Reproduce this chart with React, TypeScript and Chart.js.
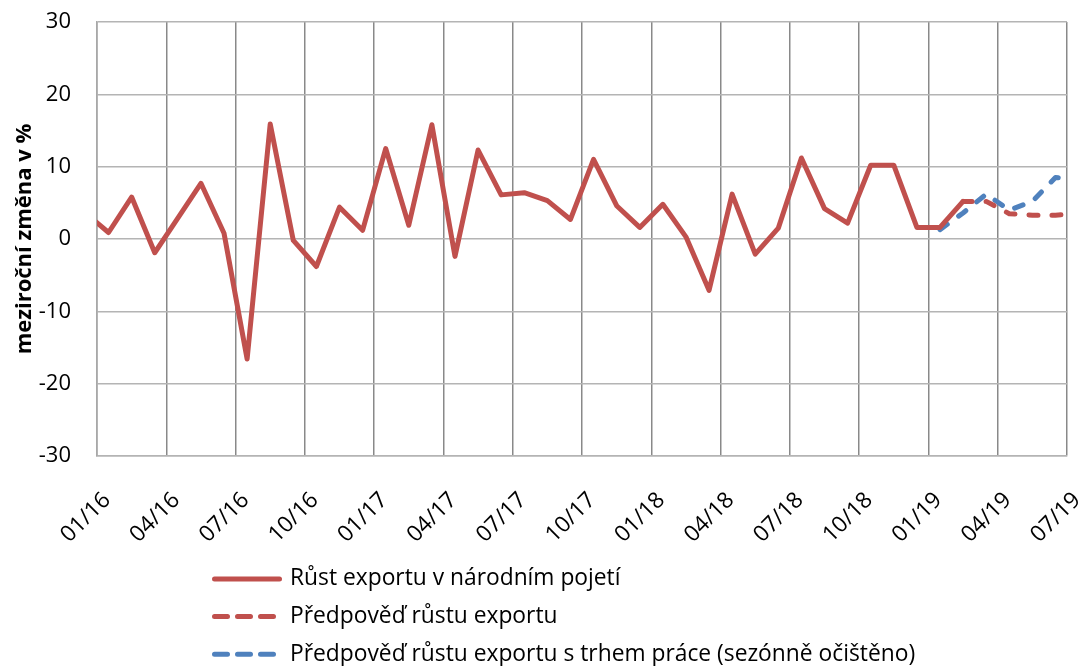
import React, { useEffect, useRef } from "react";
import { Chart, registerables } from "chart.js";

Chart.register(...registerables);

// Monthly categories (x positions are category index − 0.5 on the month scale)
const categories = [
  "12/15",
  "01/16", "02/16", "03/16", "04/16", "05/16", "06/16", "07/16", "08/16", "09/16", "10/16", "11/16", "12/16",
  "01/17", "02/17", "03/17", "04/17", "05/17", "06/17", "07/17", "08/17", "09/17", "10/17", "11/17", "12/17",
  "01/18", "02/18", "03/18", "04/18", "05/18", "06/18", "07/18", "08/18", "09/18", "10/18", "11/18", "12/18",
  "01/19", "02/19", "03/19", "04/19", "05/19", "06/19", "07/19",
];

const tickLabels = [
  "01/16", "04/16", "07/16", "10/16", "01/17", "04/17", "07/17", "10/17",
  "01/18", "04/18", "07/18", "10/18", "01/19", "04/19", "07/19",
];

const seriesNames = [
  "Růst exportu v národním pojetí",
  "Předpověď růstu exportu",
  "Předpověď růstu exportu s trhem práce (sezónně očištěno)",
];

// Růst exportu v národním pojetí, from 12/15
const exportStart = "12/15";
const exportGrowth = [
  3.6, 0.9, 5.8, -1.9, 2.9, 7.7, 0.8, -16.6, 15.9, -0.2, -3.8, 4.4, 1.2,
  12.5, 1.9, 15.8, -2.4, 12.3, 6.1, 6.4, 5.3, 2.7, 11.0, 4.6, 1.6,
  4.8, 0.3, -7.1, 6.2, -2.1, 1.5, 11.2, 4.2, 2.2, 10.2, 10.2, 1.6,
  1.6, 5.2,
];

// Předpověď růstu exportu, from 02/19
const forecastStart = "02/19";
const forecast = [5.2, 5.2, 3.5, 3.3, 3.3, 3.45];

// Předpověď růstu exportu s trhem práce, from 01/19
const labourStart = "01/19";
const forecastLabour = [1.3, 3.6, 6.2, 4.0, 5.2, 8.5, 8.2];

const yTicks = { min: -30, max: 30, step: 10 };

const RED = "#C0504D";
const BLUE = "#4F81BD";
const FONT = "'Open Sans'";

function toPoints(start: string, values: number[]) {
  const s = categories.indexOf(start);
  return values.map((v, i) => ({ x: s + i - 0.5, y: v }));
}

const legendPlugin = {
  id: "stackedLegend",
  afterDraw(chart: any) {
    const ctx = chart.ctx;
    const rows = [
      { color: RED, dash: [] as number[] },
      { color: RED, dash: [13, 10] },
      { color: BLUE, dash: [13, 10] },
    ];
    const x0 = 214.5;
    const x1 = 279.5;
    const tx = 290;
    const y0 = 579;
    const dy = 37.6;
    ctx.save();
    rows.forEach((r, i) => {
      const y = y0 + i * dy;
      ctx.beginPath();
      ctx.setLineDash(r.dash);
      ctx.lineCap = "round";
      ctx.strokeStyle = r.color;
      ctx.lineWidth = 5;
      ctx.moveTo(x0, y);
      ctx.lineTo(x1, y);
      ctx.stroke();
      ctx.setLineDash([]);
      ctx.fillStyle = "#000";
      ctx.font = `22.8px ${FONT}`;
      ctx.textAlign = "left";
      ctx.textBaseline = "middle";
      ctx.fillText(seriesNames[i], tx, y);
    });
    ctx.restore();
  },
};

export default function App() {
  const ref = useRef<HTMLCanvasElement | null>(null);

  useEffect(() => {
    document.body.style.margin = "0";
    const canvas = ref.current;
    if (!canvas) return;
    const lastTick = (tickLabels.length - 1) * 3;
    const chart = new Chart(canvas, {
      type: "line",
      data: {
        datasets: [
          {
            label: seriesNames[0],
            data: toPoints(exportStart, exportGrowth),
            borderColor: RED,
            backgroundColor: RED,
            borderWidth: 5,
            pointRadius: 0,
            tension: 0,
            borderCapStyle: "round",
            borderJoinStyle: "round",
            clip: 0,
          },
          {
            label: seriesNames[1],
            data: toPoints(forecastStart, forecast),
            borderColor: RED,
            backgroundColor: RED,
            borderWidth: 5,
            borderDash: [9, 14],
            pointRadius: 0,
            tension: 0,
            borderCapStyle: "round",
            borderJoinStyle: "round",
            clip: 0,
          },
          {
            label: seriesNames[2],
            data: toPoints(labourStart, forecastLabour),
            borderColor: BLUE,
            backgroundColor: BLUE,
            borderWidth: 5,
            borderDash: [9, 14],
            pointRadius: 0,
            tension: 0,
            borderCapStyle: "round",
            borderJoinStyle: "round",
            clip: 0,
          },
        ],
      },
      options: {
        responsive: false,
        animation: false,
        events: [],
        layout: { padding: { left: 0, right: 12, top: 22, bottom: 110 } },
        plugins: {
          legend: { display: false },
          tooltip: { enabled: false },
          title: { display: false },
        },
        scales: {
          x: {
            type: "linear",
            min: 0,
            max: lastTick,
            grid: { color: "#898989", lineWidth: 1.5, drawTicks: false },
            border: { color: "#b4b4b4", width: 1.5 },
            ticks: {
              stepSize: 3,
              autoSkip: false,
              minRotation: 45,
              maxRotation: 45,
              labelOffset: 10,
              padding: 31,
              color: "#000",
              font: { family: FONT, size: 22.5 },
              callback: (v: any) => tickLabels[Math.round(Number(v) / 3)] ?? "",
            },
            afterFit: (s: any) => {
              s.height = 100;
              s.paddingLeft = 0;
              s.paddingRight = 0;
            },
          },
          y: {
            min: yTicks.min,
            max: yTicks.max,
            grid: { color: "#b4b4b4", lineWidth: 1.5, drawTicks: false },
            border: { color: "#a8a8a8", width: 1.5 },
            ticks: {
              stepSize: yTicks.step,
              padding: 26,
              color: "#000",
              font: { family: FONT, size: 22 },
            },
            title: {
              display: true,
              text: "meziroční změna v %",
              color: "#000",
              font: { family: FONT, size: 22, weight: "bold" },
              padding: { top: 12, bottom: 0 },
            },
            afterFit: (s: any) => {
              s.width = 97;
              s.paddingTop = 0;
              s.paddingBottom = 0;
            },
          },
        },
      },
      plugins: [legendPlugin],
    });
    return () => chart.destroy();
  }, []);

  return (
    <div style={{ width: 1079, height: 666, background: "#fff" }}>
      <canvas ref={ref} width={1079} height={666} />
    </div>
  );
}
